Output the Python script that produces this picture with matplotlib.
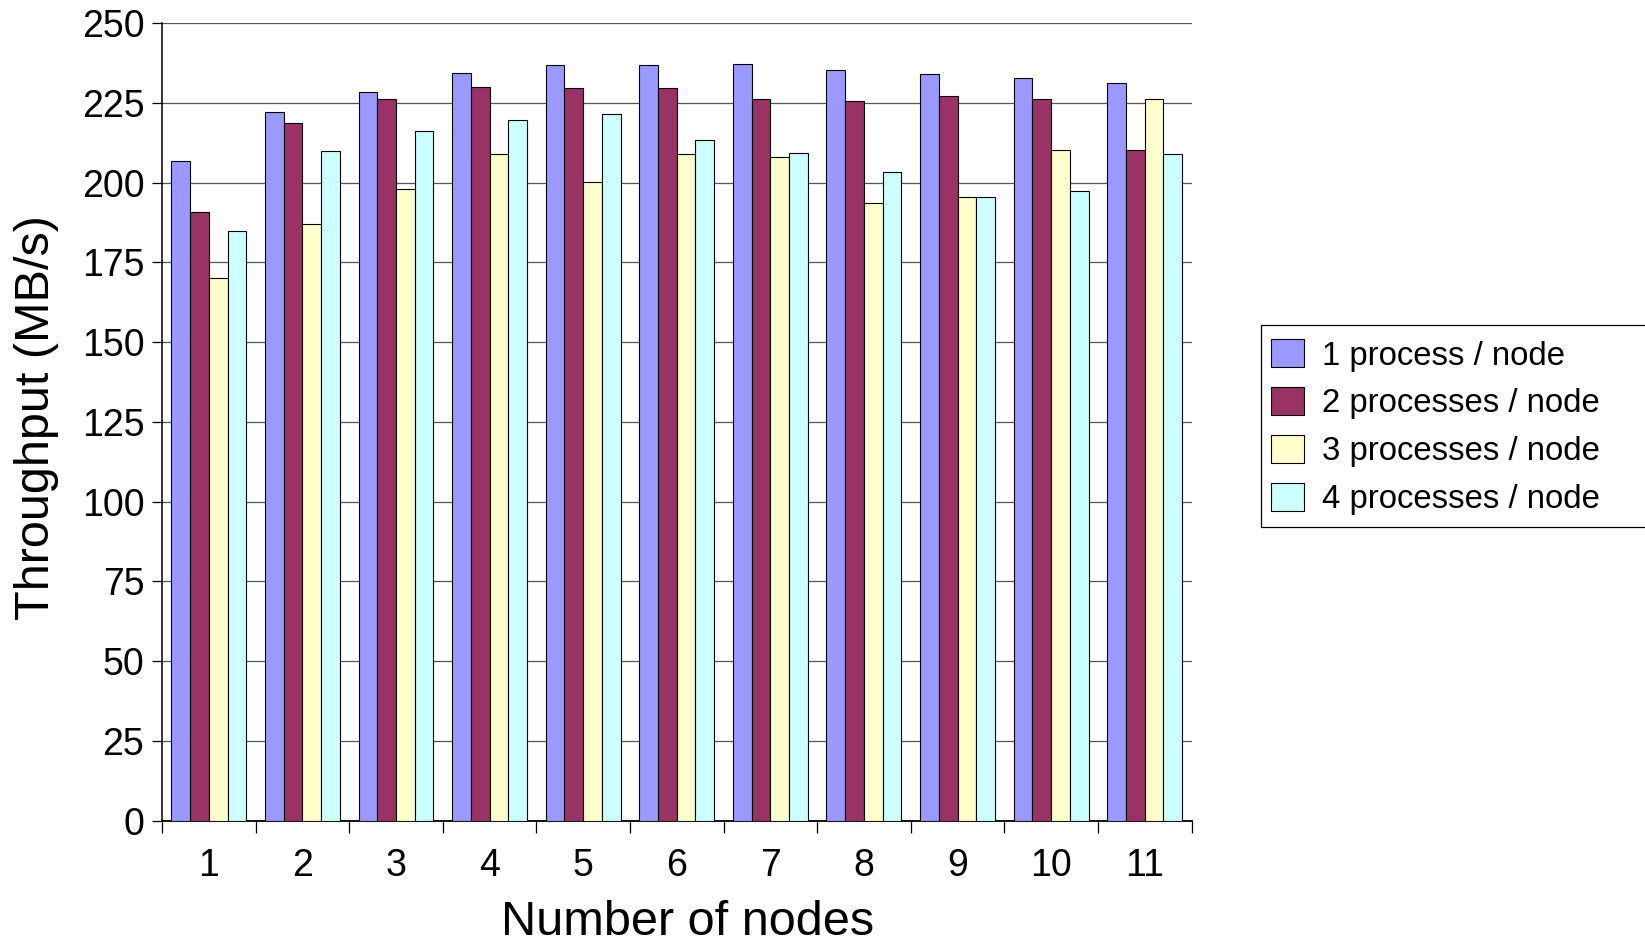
import matplotlib
matplotlib.use("Agg")
import matplotlib.pyplot as plt
from matplotlib.patches import Rectangle
import numpy as np

nodes = ["1", "2", "3", "4", "5", "6", "7", "8", "9", "10", "11"]
series_names = ["1 process / node", "2 processes / node",
                "3 processes / node", "4 processes / node"]
p1 = [206.6, 222.2, 228.4, 234.2, 236.7, 236.9, 237.0, 235.2, 233.9, 232.7, 231.2]
p2 = [190.7, 218.8, 226.3, 229.9, 229.6, 229.5, 226.3, 225.6, 227.0, 226.2, 210.3]
p3 = [170.0, 187.0, 198.0, 208.8, 200.3, 209.1, 208.0, 193.5, 195.5, 210.2, 226.3]
p4 = [184.9, 209.8, 216.3, 219.7, 221.5, 213.2, 209.4, 203.4, 195.5, 197.2, 208.8]
colors = ["#9999FF", "#993366", "#FFFFCC", "#CCFFFF"]
yticks = list(range(0, 251, 25))

plt.rcParams['font.family'] = ['Liberation Sans', 'DejaVu Sans']

W, H = 1645, 943
fig = plt.figure(figsize=(W / 100, H / 100), dpi=100)
ax = fig.add_axes([162 / W, 1 - 820.7 / H, (1191.5 - 162) / W, (820.7 - 23) / H])

x = np.arange(len(nodes))
bw = 0.2
handles = []
for i, vals in enumerate([p1, p2, p3, p4]):
    b = ax.bar(x - 0.3 + i * bw, vals, width=bw, color=colors[i],
               edgecolor="black", linewidth=0.8, zorder=3, label=series_names[i])
    handles.append(b)

ax.set_xlim(-0.5, len(nodes) - 0.5)
ax.set_ylim(0, 250)
ax.set_yticks(yticks)
ax.set_yticklabels([str(v) for v in yticks])
ax.yaxis.grid(True, color="#555555", linewidth=0.9, zorder=0)
ax.set_axisbelow(True)

ax.set_xticks(x)
ax.set_xticklabels(nodes)
ax.set_xticks(np.arange(-0.5, len(nodes) + 0.5, 1), minor=True)
ax.tick_params(axis='x', which='major', length=0, pad=19.5, labelsize=27)
ax.tick_params(axis='x', which='minor', length=8.5, width=0.9, direction='out')
ax.tick_params(axis='y', which='major', length=7.5, width=0.9, direction='out',
               pad=5.2, labelsize=27)

for s in ["top", "right"]:
    ax.spines[s].set_visible(False)
ax.spines["left"].set_linewidth(1.1)
ax.spines["bottom"].set_linewidth(1.3)

fig.text(37 / W, 1 - 418 / H, "Throughput (MB/s)", rotation=90,
         ha="center", va="center", fontsize=35)
fig.text(687.5 / W, 1 - 935 / H, "Number of nodes", ha="center",
         va="baseline", fontsize=35)

# legend box
fig.patches.append(Rectangle((1261 / W, 1 - 527 / H), (1700 - 1261) / W,
                             (527 - 325) / H, transform=fig.transFigure,
                             facecolor="white", edgecolor="black",
                             linewidth=0.9, zorder=1))
leg = fig.legend(handles=handles, labels=series_names, loc="upper left",
                 bbox_to_anchor=(1271 / W, 1 - 339 / H), frameon=False,
                 fontsize=23.7, borderpad=0, borderaxespad=0,
                 handlelength=1.0, handleheight=0.95, handletextpad=0.56,
                 labelspacing=0.47)
leg.set_zorder(2)

fig.savefig("out.png", dpi=100)
